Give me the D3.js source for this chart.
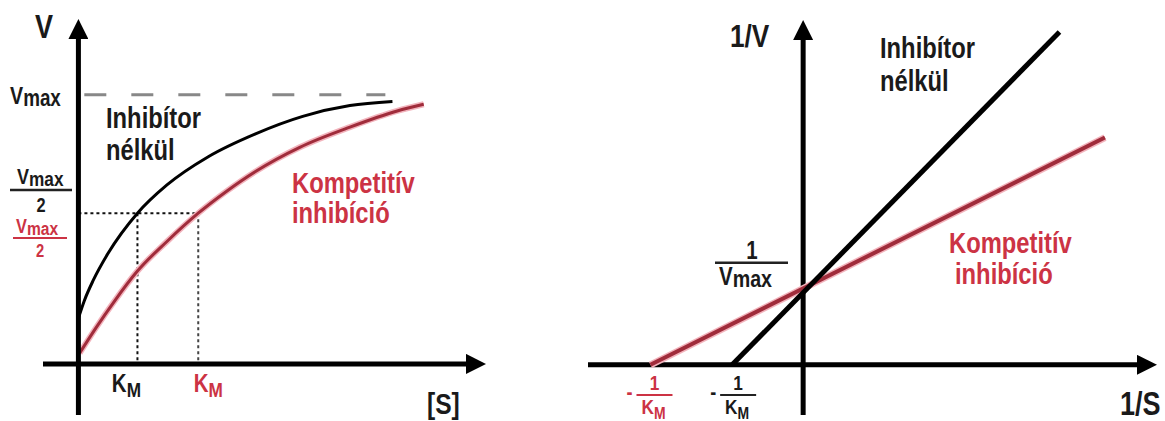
<!DOCTYPE html>
<meta charset="utf-8">
<style>
body {
  margin: 0;
  background-color: #ffffff;
}
svg text {
  font-family: "Liberation Sans", Arial, sans-serif;
  font-weight: bold;
  fill: #1a1a1a;
}
.red { fill: #cc3344 !important; }
.axisline { stroke: #000; stroke-width: 5px; fill: none; }
</style>
<svg width="1165" height="421"></svg>
<script src="https://d3js.org/d3.v7.min.js"></script>
<script>
// Michaelis-Menten plot, points ([S] in K_M units, V in Vmax units)
var mmS_none = [0, 0.1, 0.25, 0.5, 1.0, 1.5, 2.2, 3.0, 3.8, 4.6, 5.32];
var mmV_none = [0.17, 0.235, 0.31, 0.41, 0.56, 0.665, 0.77, 0.855, 0.92, 0.96, 0.975];
var mmS_comp = [0.02, 0.3, 0.6, 1.0, 1.5, 2.03, 2.5, 3.0, 3.75, 4.6, 5.4, 5.85];
var mmV_comp = [0.04, 0.135, 0.23, 0.345, 0.455, 0.56, 0.64, 0.715, 0.805, 0.88, 0.94, 0.965];
var vmax = 1, vmaxDash = [0.1, 5.2];
var halfV = 0.56;
var kmNone = 1.0, kmComp = 2.03;

// Lineweaver-Burk plot (1/S, 1/V)
var lbX_none = [-1, 3.61], lbY_none = [0, 4.38];
var lbX_comp = [-2.15, 4.25], lbY_comp = [0, 2.99];
var invVmax = 1;

var svg = d3.select("svg");
var defs = svg.append("defs");
defs.append("marker")
    .attr("id", "arrow")
    .attr("markerUnits", "userSpaceOnUse")
    .attr("viewBox", "0 -10 20 20")
    .attr("refX", 2).attr("refY", 0)
    .attr("markerWidth", 20).attr("markerHeight", 20)
    .attr("orient", "auto")
  .append("path")
    .attr("d", "M0,-10L20,0L0,10Z")
    .attr("fill", "#000");

var line = d3.line().curve(d3.curveMonotoneX);

// narrow bold text, like Arial Narrow
function label(g, x, y, size, cls, anchor) {
  var t = g.append("text")
      .attr("transform", "translate(" + x + "," + y + ") scale(0.82,1)")
      .attr("text-anchor", anchor || "start")
      .style("font-size", size + "px");
  if (cls) t.attr("class", cls);
  return t;
}
function vmaxText(g, x, y, size, cls) {
  var t = label(g, x, y, size, cls);
  t.append("tspan").text("V");
  t.append("tspan").attr("dy", 2).style("font-size", (size - 1) + "px").text("max");
  return t;
}
function kmText(g, x, y, size, cls) {
  var t = label(g, x, y, size, cls, "middle");
  t.append("tspan").text("K");
  t.append("tspan").attr("dy", 5).style("font-size", (size - 4) + "px").text("M");
  return t;
}

// ---------- left chart ----------
var x1 = d3.scaleLinear().domain([-0.6, 6.6]).range([43, 468]);
var y1 = d3.scaleLinear().domain([-0.19, 1.215]).range([415, 37]);
var g1 = svg.append("g");

// Vmax dashed
g1.append("line")
    .attr("x1", x1(vmaxDash[0])).attr("x2", x1(vmaxDash[1]))
    .attr("y1", y1(vmax)).attr("y2", y1(vmax))
    .attr("stroke", "#888").attr("stroke-width", 3)
    .attr("stroke-dasharray", "22,25");

// dotted guides at Vmax/2
g1.append("line")
    .attr("x1", x1(0)).attr("x2", x1(kmComp))
    .attr("y1", y1(halfV)).attr("y2", y1(halfV))
    .attr("stroke", "#111").attr("stroke-width", 2).attr("stroke-dasharray", "3,3");
[kmNone, kmComp].forEach(function(k, i) {
  g1.append("line")
      .attr("x1", x1(k)).attr("x2", x1(k))
      .attr("y1", y1(halfV)).attr("y2", y1(0))
      .attr("stroke", i ? "#444" : "#111").attr("stroke-width", 2).attr("stroke-dasharray", "3,3");
});

var ptsNone = mmS_none.map(function(s, i) { return [x1(s), y1(mmV_none[i])]; });
var ptsComp = mmS_comp.map(function(s, i) { return [x1(s), y1(mmV_comp[i])]; });

g1.append("path").attr("d", line(ptsComp))
    .attr("fill", "none").attr("stroke", "#f2b3bc").attr("stroke-width", 6);
g1.append("path").attr("d", line(ptsComp))
    .attr("fill", "none").attr("stroke", "#a02c3b").attr("stroke-width", 3);
g1.append("path").attr("d", line(ptsNone))
    .attr("fill", "none").attr("stroke", "#000").attr("stroke-width", 3);

// axes
g1.append("line").attr("class", "axisline")
    .attr("x1", x1(-0.6)).attr("x2", x1(6.6))
    .attr("y1", y1(0)).attr("y2", y1(0))
    .attr("marker-end", "url(#arrow)");
g1.append("line").attr("class", "axisline")
    .attr("x1", x1(0)).attr("x2", x1(0))
    .attr("y1", y1(-0.19)).attr("y2", y1(1.215))
    .attr("marker-end", "url(#arrow)");

// labels
label(g1, 35, 38, 33).text("V");
vmaxText(g1, 10, y1(vmax) + 9, 24);
// Vmax/2 black
vmaxText(g1, 17, 184, 22);
g1.append("line").attr("x1", 10).attr("x2", 72).attr("y1", 190).attr("y2", 190)
    .attr("stroke", "#222").attr("stroke-width", 2.5);
label(g1, 41, 212, 20, null, "middle").text("2");
// Vmax/2 red
vmaxText(g1, 16, 233, 20, "red");
g1.append("line").attr("x1", 13).attr("x2", 67).attr("y1", 238).attr("y2", 238)
    .attr("stroke", "#cc3344").attr("stroke-width", 2);
label(g1, 40, 257, 18, "red", "middle").text("2");

kmText(g1, x1(kmNone) - 11, 392, 25);
kmText(g1, x1(kmComp) + 10, 392, 25, "red");

label(g1, 427, 414, 30).text("[S]");
label(g1, 106, 128, 29).text("Inhibítor");
label(g1, 106, 160, 29).text("nélkül");
label(g1, 292, 193, 29, "red").text("Kompetitív");
label(g1, 292, 223, 29, "red").text("inhibíció");

// ---------- right chart ----------
var x2 = d3.scaleLinear().domain([-3.03, 4.73]).range([588, 1139]);
var y2 = d3.scaleLinear().domain([-0.66, 4.3]).range([415, 38]);
var g2 = svg.append("g");

g2.append("line").attr("class", "axisline")
    .attr("x1", x2(-3.03)).attr("x2", x2(4.73))
    .attr("y1", y2(0)).attr("y2", y2(0))
    .attr("marker-end", "url(#arrow)");
g2.append("line").attr("class", "axisline")
    .attr("x1", x2(0)).attr("x2", x2(0))
    .attr("y1", y2(-0.66)).attr("y2", y2(4.3))
    .attr("marker-end", "url(#arrow)");

var lbComp = lbX_comp.map(function(v, i) { return [x2(v), y2(lbY_comp[i])]; });
var lbNone = lbX_none.map(function(v, i) { return [x2(v), y2(lbY_none[i])]; });
g2.append("path").attr("d", d3.line()(lbComp))
    .attr("fill", "none").attr("stroke", "#f2b3bc").attr("stroke-width", 7);
g2.append("path").attr("d", d3.line()(lbComp))
    .attr("fill", "none").attr("stroke", "#a02c3b").attr("stroke-width", 4);
g2.append("path").attr("d", d3.line()(lbNone))
    .attr("fill", "none").attr("stroke", "#000").attr("stroke-width", 5);

label(g2, 730, 47, 32).text("1/V");
label(g2, 1120, 415, 33).text("1/S");
label(g2, 880, 58, 29).text("Inhibítor");
label(g2, 880, 91, 29).text("nélkül");
label(g2, 949, 253, 29, "red").text("Kompetitív");
label(g2, 955, 284, 29, "red").text("inhibíció");

// 1/Vmax
label(g2, 752, 259, 25, null, "middle").text("1");
g2.append("line").attr("x1", 715).attr("x2", 788).attr("y1", y2(invVmax) - 26).attr("y2", y2(invVmax) - 26)
    .attr("stroke", "#222").attr("stroke-width", 2.5);
vmaxText(g2, 719, 285, 25);

// -1/KM labels
function negInvKm(g, xc, cls) {
  var col = cls ? "#cc3344" : "#222";
  label(g, xc - 25, 399, 22, cls, "middle").text("-");
  label(g, xc, 390, 21, cls, "middle").text("1");
  g.append("line").attr("x1", xc - 18).attr("x2", xc + 18).attr("y1", 395).attr("y2", 395)
      .attr("stroke", col).attr("stroke-width", 2);
  kmText(g, xc - 1, 414, 21, cls);
}
negInvKm(g2, x2(lbX_comp[0]) + 4, "red");
negInvKm(g2, x2(lbX_none[0]) + 6);
</script>
